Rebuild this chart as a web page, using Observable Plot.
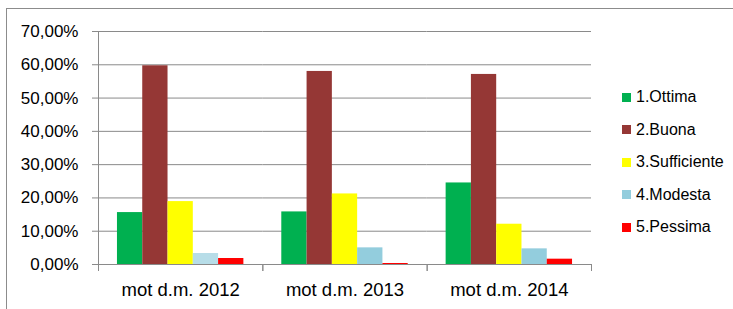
<!DOCTYPE html>
<html>
<head>
<meta charset="utf-8">
<script src="https://cdn.jsdelivr.net/npm/d3@7"></script>
<script src="https://cdn.jsdelivr.net/npm/@observablehq/plot@0.6"></script>
<style>
  html, body { margin: 0; padding: 0; background: #fff; overflow: hidden; }
  #wrap { position: relative; width: 733px; height: 309px; overflow: hidden; font-family: "Liberation Sans", Arial, sans-serif; }
  #border { position: absolute; left: 6px; top: 8px; width: 800px; height: 400px; border: 1px solid #8c8c8c; box-sizing: border-box; }
  #chart { position: absolute; left: 0; top: 0; }
  #legend { position: absolute; left: 622px; top: 80.75px; }
  .row { height: 32.5px; display: flex; align-items: center; font-size: 16px; color: #000; }
  .sw { width: 9px; height: 9px; margin-right: 5px; }
</style>
</head>
<body>
<div id="wrap">
  <div id="border"></div>
  <div id="chart"></div>
  <div id="legend"></div>
</div>
<script>
const groups = ["mot d.m. 2012", "mot d.m. 2013", "mot d.m. 2014"];
const series = ["1.Ottima", "2.Buona", "3.Sufficiente", "4.Modesta", "5.Pessima"];
const ottima      = [15.6, 15.8, 24.5];
const buona       = [59.7, 58.0, 57.1];
const sufficiente = [18.9, 21.2, 12.1];
const modesta     = [3.3, 5.0, 4.7];
const pessima     = [1.8, 0.3, 1.6];
const colors = ["#00B050", "#953735", "#FFFF00", "#93CDDD", "#FF0000"];
const yTicks = [0, 10, 20, 30, 40, 50, 60, 70];

const valuesBySeries = [ottima, buona, sufficiente, modesta, pessima];
const data = [];
groups.forEach((g, gi) => series.forEach((s, si) => data.push({group: g, series: s, value: valuesBySeries[si][gi]})));

// the 2012 "Modesta" bar is drawn in a lighter blue in the reference
const lightKey = "4.Modesta (2012)";
const fillKey = d => (d.group === groups[0] && d.series === series[3]) ? lightKey : d.series;

const gray = "#8a8a8a";
const fmt = d => d.toFixed(2).replace(".", ",") + "%";

const chart = Plot.plot({
  width: 733,
  height: 309,
  marginLeft: 98,
  marginRight: 142,
  marginTop: 31,
  marginBottom: 45,
  style: {fontFamily: "Liberation Sans, Arial, sans-serif", color: "#000", background: "transparent", overflow: "visible"},
  fx: {domain: groups, padding: 0, round: false},
  x: {domain: series, paddingInner: 0, paddingOuter: 0.75, round: false, axis: null},
  y: {domain: [0, 70], axis: null},
  color: {domain: [...series, lightKey], range: [...colors, "#B7DDE8"]},
  marks: [
    Plot.gridY(yTicks, {stroke: gray, strokeOpacity: 1, strokeWidth: 1}),
    Plot.barY(data, {fx: "group", x: "series", y: "value", fill: fillKey}),
    Plot.frame({anchor: "left", fx: groups[0], stroke: gray, strokeWidth: 1, insetBottom: -6}),
    Plot.frame({anchor: "left", stroke: gray, strokeWidth: 1, insetTop: 233, insetBottom: -6}),
    Plot.frame({anchor: "right", stroke: gray, strokeWidth: 1, insetTop: 233, insetBottom: -6}),
    Plot.ruleY([0], {stroke: gray, strokeWidth: 1}),
    Plot.axisY({ticks: yTicks, tickFormat: fmt, tickSize: 6, tickPadding: 14, stroke: gray, fill: "#000", fontSize: 17, label: null}),
    Plot.axisFx({anchor: "bottom", tickSize: 0, tickPadding: 18, fontSize: 18.5, fill: "#000", label: null})
  ]
});
document.getElementById("chart").appendChild(chart);

const legend = document.getElementById("legend");
series.forEach((s, i) => {
  const row = document.createElement("div");
  row.className = "row";
  const sw = document.createElement("div");
  sw.className = "sw";
  sw.style.background = colors[i];
  const t = document.createElement("span");
  t.textContent = s;
  row.appendChild(sw);
  row.appendChild(t);
  legend.appendChild(row);
});
</script>
</body>
</html>
